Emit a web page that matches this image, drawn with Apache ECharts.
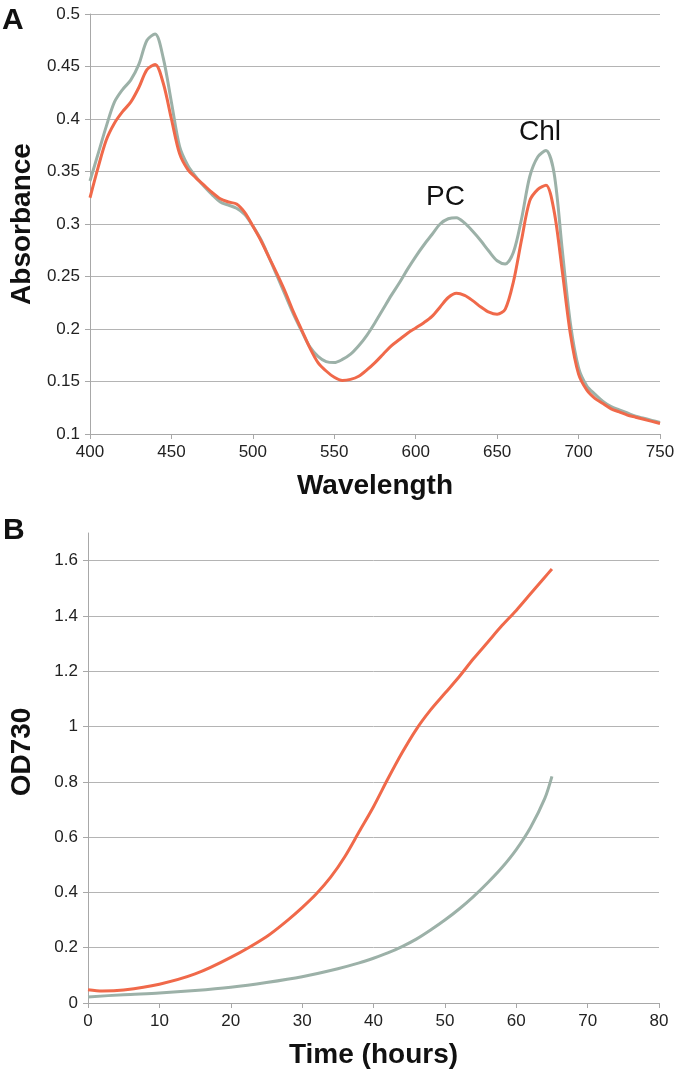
<!DOCTYPE html>
<html>
<head>
<meta charset="utf-8">
<script src="https://cdn.jsdelivr.net/npm/echarts@6/dist/echarts.min.js"></script>
<style>
  html, body { margin: 0; padding: 0; background: #fff; }
  #main { width: 680px; height: 1074px; }
</style>
</head>
<body>
<div id="main"></div>
<script>
// panel A: absorbance spectra
const wavelength = [400, 405, 410, 415, 420, 425, 430, 435, 440, 445, 450, 455, 460, 465, 470, 475, 480, 485, 490, 495,
  500, 505, 510, 515, 520, 525, 530, 535, 540, 545, 550, 555, 560, 565, 570, 575, 580, 585, 590, 595,
  600, 605, 610, 615, 620, 625, 630, 635, 640, 645, 650, 655, 660, 665, 670, 675, 680, 685, 690, 695,
  700, 705, 710, 715, 720, 725, 730, 735, 740, 745, 750];
const absGray = [0.341, 0.367, 0.393, 0.416, 0.428, 0.437, 0.452, 0.475, 0.481, 0.458, 0.416, 0.374, 0.356, 0.345, 0.336, 0.328, 0.321, 0.318, 0.315, 0.309,
  0.298, 0.285, 0.268, 0.25, 0.232, 0.214, 0.198, 0.183, 0.174, 0.169, 0.168, 0.171, 0.176, 0.184, 0.194, 0.206, 0.219, 0.232, 0.244, 0.257,
  0.269, 0.28, 0.29, 0.3, 0.305, 0.306, 0.301, 0.293, 0.284, 0.274, 0.265, 0.262, 0.273, 0.305, 0.345, 0.364, 0.37, 0.348, 0.275, 0.205,
  0.163, 0.146, 0.138, 0.131, 0.126, 0.123, 0.12, 0.117, 0.115, 0.113, 0.111];
const absOrange = [0.325, 0.354, 0.38, 0.396, 0.407, 0.416, 0.43, 0.447, 0.452, 0.434, 0.4, 0.367, 0.352, 0.344, 0.337, 0.33, 0.324, 0.321, 0.319, 0.311,
  0.298, 0.284, 0.268, 0.252, 0.235, 0.216, 0.199, 0.182, 0.168, 0.16, 0.154, 0.151, 0.152, 0.155, 0.161, 0.168, 0.176, 0.184, 0.19, 0.196,
  0.201, 0.206, 0.212, 0.221, 0.23, 0.234, 0.232, 0.227, 0.221, 0.216, 0.214, 0.219, 0.245, 0.285, 0.322, 0.333, 0.337, 0.312, 0.255, 0.195,
  0.157, 0.142, 0.134, 0.129, 0.124, 0.121, 0.118, 0.116, 0.114, 0.112, 0.11];

// panel B: growth curves
const timeGray = [0, 5, 10, 15, 20, 25, 30, 35, 38, 40, 42, 44, 46, 48, 50, 52, 54, 56, 58, 60, 62, 64, 65];
const odGray = [0.022, 0.03, 0.036, 0.045, 0.057, 0.074, 0.095, 0.124, 0.145, 0.162, 0.181, 0.204, 0.231, 0.264, 0.3, 0.34, 0.385, 0.435, 0.49, 0.555, 0.635, 0.74, 0.82];
const timeOrange = [0, 2, 5, 10, 15, 20, 25, 28, 30, 32, 34, 36, 38, 40, 42, 44, 46, 48, 50, 52, 54, 56, 58, 60, 62, 64, 65];
const odOrange = [0.048, 0.043, 0.047, 0.068, 0.105, 0.165, 0.24, 0.3, 0.345, 0.395, 0.455, 0.53, 0.62, 0.71, 0.81, 0.905, 0.99, 1.06, 1.12, 1.18, 1.245, 1.305, 1.365, 1.42, 1.48, 1.54, 1.57];

const GRAY = "#9cb1a8";
const ORANGE = "#f0694a";
const FONT = "Liberation Sans";

const zip = (xs, ys) => xs.map((x, i) => [x, ys[i]]);

const axisCommon = {
  axisLine: { show: true, lineStyle: { color: "#a8a8a8", width: 1 } },
  axisTick: { show: true, length: 5, lineStyle: { color: "#a8a8a8" } },
  axisLabel: { color: "#222", fontSize: 17, fontFamily: FONT, margin: 10 },
  nameTextStyle: { color: "#111", fontSize: 28, fontWeight: "bold", fontFamily: FONT },
};

const lineSeries = (xi, data, color) => ({
  type: "line",
  xAxisIndex: xi,
  yAxisIndex: xi,
  data,
  smooth: 0.3,
  showSymbol: false,
  animation: false,
  lineStyle: { color, width: 3 },
});

const chart = echarts.init(document.getElementById("main"));
chart.setOption({
  backgroundColor: "#fff",
  grid: [
    { left: 82, top: 14, width: 578, height: 420 },
    { left: 81, top: 533, width: 578, height: 470 },
  ],
  xAxis: [
    {
      ...axisCommon,
      gridIndex: 0,
      type: "value",
      min: 400,
      max: 750,
      interval: 50,
      splitLine: { show: false },
      name: "Wavelength",
      nameLocation: "middle",
      nameGap: 38,
    },
    {
      ...axisCommon,
      gridIndex: 1,
      type: "value",
      min: 0,
      max: 80,
      interval: 10,
      splitLine: { show: false },
      name: "Time (hours)",
      nameLocation: "middle",
      nameGap: 38,
    },
  ],
  yAxis: [
    {
      ...axisCommon,
      gridIndex: 0,
      type: "value",
      min: 0.1,
      max: 0.5,
      interval: 0.05,
      splitLine: { show: true, lineStyle: { color: "#b4b4b4", width: 1 } },
      name: "Absorbance",
      nameLocation: "middle",
      nameGap: 52,
    },
    {
      ...axisCommon,
      gridIndex: 1,
      type: "value",
      min: 0,
      max: 1.7,
      interval: 0.2,
      axisLabel: { ...axisCommon.axisLabel, showMaxLabel: false },
      splitLine: { show: true, showMaxLine: false, lineStyle: { color: "#b4b4b4", width: 1 } },
      name: "OD730",
      nameLocation: "middle",
      nameGap: 52,
      nameTextStyle: { ...axisCommon.nameTextStyle, padding: [0, 0, 0, 32] },
    },
  ],
  series: [
    lineSeries(0, zip(wavelength, absGray), GRAY),
    lineSeries(0, zip(wavelength, absOrange), ORANGE),
    lineSeries(1, zip(timeGray, odGray), GRAY),
    lineSeries(1, zip(timeOrange, odOrange), ORANGE),
  ],
  graphic: [
    { type: "text", left: 2, top: 6, style: { text: "A", fontSize: 30, fontWeight: "bold", fontFamily: FONT, fill: "#111" } },
    { type: "text", left: 3, top: 516, style: { text: "B", fontSize: 30, fontWeight: "bold", fontFamily: FONT, fill: "#111" } },
    { type: "text", left: 426, top: 183, style: { text: "PC", fontSize: 28, fontFamily: FONT, fill: "#111" } },
    { type: "text", left: 519, top: 118, style: { text: "Chl", fontSize: 28, fontFamily: FONT, fill: "#111" } },
  ],
});
</script>
</body>
</html>
